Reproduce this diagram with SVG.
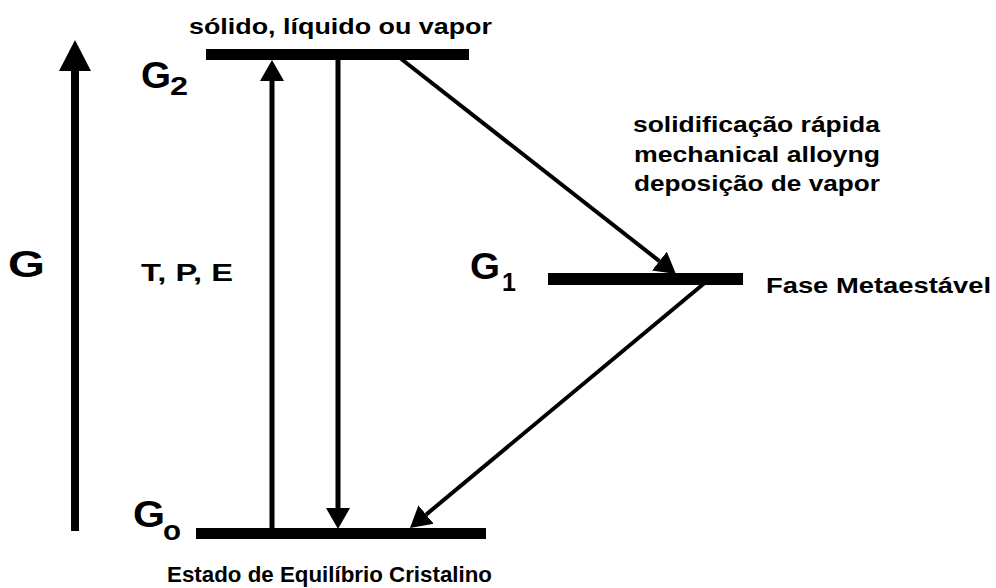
<svg xmlns="http://www.w3.org/2000/svg" width="996" height="588" viewBox="0 0 996 588">
  <style>
    text { font-family: "Liberation Sans", Arial, sans-serif; font-weight: bold; fill: #000; }
    .lbl { font-size: 22px; }
    .big { font-size: 37px; }
    .sub { font-size: 25px; }
    .bar { fill: #000; }
    .conn { stroke: #000; fill: none; }
  </style>
  <defs>
    <marker id="ah" markerUnits="userSpaceOnUse" markerWidth="22" markerHeight="26" viewBox="0 -13 22 26" refX="0" refY="0" orient="auto">
      <path d="M0,-12 L21,0 L0,12 Z" fill="#000"/>
    </marker>
  </defs>
  <rect width="996" height="588" fill="#fff"/>

  <!-- G axis -->
  <g id="axis">
    <line x1="75" y1="531" x2="75" y2="70" stroke="#000" stroke-width="8"/>
    <polygon points="59,71 75,40 91,71" fill="#000"/>
    <text class="big" x="8" y="277" textLength="37" lengthAdjust="spacingAndGlyphs">G</text>
  </g>

  <!-- G2 level -->
  <g id="level-g2">
    <rect class="bar" x="206" y="49" width="263" height="11"/>
    <text class="big" x="141" y="88" font-size="35" textLength="30" lengthAdjust="spacingAndGlyphs">G</text>
    <text class="sub" x="170" y="95" textLength="18" lengthAdjust="spacingAndGlyphs">2</text>
    <text class="lbl" x="189" y="34" textLength="303" lengthAdjust="spacingAndGlyphs">sólido, líquido ou vapor</text>
  </g>

  <!-- G1 level -->
  <g id="level-g1">
    <rect class="bar" x="548" y="273" width="195" height="12"/>
    <text class="big" x="470" y="279" font-size="36" textLength="30" lengthAdjust="spacingAndGlyphs">G</text>
    <text class="sub" x="502" y="291">1</text>
    <text class="lbl" x="766" y="293" textLength="225" lengthAdjust="spacingAndGlyphs">Fase Metaestável</text>
  </g>

  <!-- G0 level -->
  <g id="level-g0">
    <rect class="bar" x="196" y="528" width="290" height="11"/>
    <text class="big" x="133" y="527" textLength="32" lengthAdjust="spacingAndGlyphs">G</text>
    <text x="163" y="540" font-size="27" textLength="18" lengthAdjust="spacingAndGlyphs">o</text>
    <text class="lbl" x="167" y="582" font-size="24" textLength="325" lengthAdjust="spacingAndGlyphs">Estado de Equilíbrio Cristalino</text>
  </g>

  <!-- process labels -->
  <g id="label-tpe">
    <text x="141" y="281" font-size="24" textLength="92" lengthAdjust="spacingAndGlyphs">T, P, E</text>
  </g>
  <g id="label-processes">
    <text class="lbl" x="633" y="132" textLength="247" lengthAdjust="spacingAndGlyphs">solidificação rápida</text>
    <text class="lbl" x="634" y="162" textLength="246" lengthAdjust="spacingAndGlyphs">mechanical alloyng</text>
    <text class="lbl" x="634" y="191" textLength="246" lengthAdjust="spacingAndGlyphs">deposição de vapor</text>
  </g>

  <!-- connectors -->
  <g id="connectors">
    <line class="conn" x1="272" y1="533" x2="272" y2="81" stroke-width="5" marker-end="url(#ah)"/>
    <line class="conn" x1="338" y1="60" x2="338" y2="508" stroke-width="5" marker-end="url(#ah)"/>
    <line class="conn" x1="400" y1="58" x2="659.4" y2="261.1" stroke-width="4" marker-end="url(#ah)"/>
    <line class="conn" x1="707" y1="281" x2="426.1" y2="514.6" stroke-width="4" marker-end="url(#ah)"/>
  </g>
</svg>
